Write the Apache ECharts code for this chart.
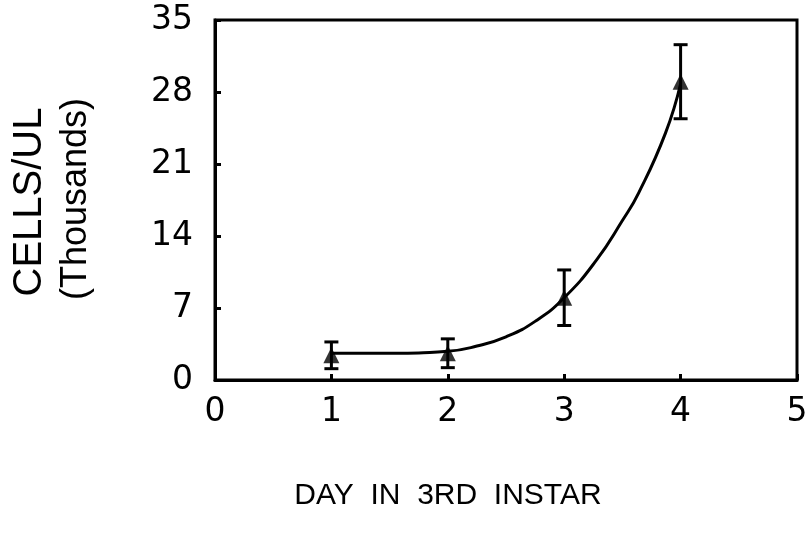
<!DOCTYPE html>
<html>
<head>
<meta charset="utf-8">
<script src="https://cdn.jsdelivr.net/npm/echarts@6/dist/echarts.min.js"></script>
<style>html,body{margin:0;padding:0;background:#fff}#c{width:811px;height:540px}</style>
</head>
<body>
<div id="c"></div>
<script>
// Measured means and error (half-width), thousands of cells/uL
var days = [1, 2, 3, 4];
var means = [2.4, 2.6, 8.0, 29.0];
var errors = [1.3, 1.4, 2.7, 3.6];
// Fitted curve
var curveX = [1.0, 1.5, 2.0, 2.25, 2.5, 2.75, 3.0, 3.28, 3.5, 3.64, 3.87, 4.0];
var curveY = [2.6, 2.6, 2.8, 3.3, 4.2, 5.7, 8.0, 11.7, 15.5, 18.2, 24.0, 28.8];
var xTicks = [0, 1, 2, 3, 4, 5];
var yTicks = [0, 7, 14, 21, 28, 35];
var yName1 = 'CELLS/UL';
var yName2 = '(Thousands)';
var xName = 'DAY  IN  3RD  INSTAR';

var FONT = 'DejaVu Sans';
var chart = echarts.init(document.getElementById('c'));
var pts = days.map(function (d, i) { return [d, means[i]]; });
var errData = days.map(function (d, i) { return [d, means[i] - errors[i], means[i] + errors[i]]; });
var curve = curveX.map(function (x, i) { return [x, curveY[i]]; });

chart.setOption({
  animation: false,
  backgroundColor: '#fff',
  grid: { left: 215, right: 14, top: 20, bottom: 160, show: true, borderColor: '#000', borderWidth: 3, backgroundColor: 'transparent' },
  xAxis: {
    type: 'value', min: xTicks[0], max: xTicks[xTicks.length - 1], interval: 1,
    axisLine: { show: true, onZero: false, lineStyle: { color: '#000', width: 3 } },
    axisTick: { show: true, inside: true, length: 6, lineStyle: { color: '#000', width: 3 } },
    splitLine: { show: false },
    axisLabel: { color: '#000', fontFamily: FONT, fontSize: 33, margin: 16 }
  },
  yAxis: {
    type: 'value', min: yTicks[0], max: yTicks[yTicks.length - 1], interval: 7,
    axisLine: { show: true, lineStyle: { color: '#000', width: 3 } },
    axisTick: { show: true, inside: true, length: 6, lineStyle: { color: '#000', width: 3 } },
    splitLine: { show: false },
    axisLabel: { color: '#000', fontFamily: FONT, fontSize: 33, margin: 22 }
  },
  graphic: [
    {
      type: 'text', x: 30, y: 202, rotation: Math.PI / 2,
      style: { text: yName1, fill: '#000', font: '40px "Liberation Sans"', textAlign: 'center', textVerticalAlign: 'middle' }
    },
    {
      type: 'text', x: 76, y: 199, rotation: Math.PI / 2,
      style: { text: yName2, fill: '#000', font: '36px "Liberation Sans"', textAlign: 'center', textVerticalAlign: 'middle' }
    },
    {
      type: 'text', x: 448, y: 496,
      style: { text: xName, fill: '#000', font: '30px "Liberation Sans"', textAlign: 'center', textVerticalAlign: 'middle' }
    }
  ],
  series: [
    {
      type: 'line', data: curve, smooth: true, showSymbol: false,
      lineStyle: { color: '#000', width: 3 }, z: 2
    },
    {
      type: 'custom', data: errData, z: 3,
      renderItem: function (params, api) {
        var x = api.value(0);
        var lo = api.coord([x, api.value(1)]);
        var hi = api.coord([x, api.value(2)]);
        var cap = 7;
        var st = { stroke: '#000', lineWidth: 3 };
        return {
          type: 'group', children: [
            { type: 'line', shape: { x1: lo[0], y1: lo[1], x2: hi[0], y2: hi[1] }, style: st },
            { type: 'line', shape: { x1: lo[0] - cap, y1: lo[1], x2: lo[0] + cap, y2: lo[1] }, style: st },
            { type: 'line', shape: { x1: hi[0] - cap, y1: hi[1], x2: hi[0] + cap, y2: hi[1] }, style: st }
          ]
        };
      }
    },
    {
      type: 'scatter', data: pts, symbol: 'triangle', symbolSize: 16, z: 4,
      itemStyle: { color: '#000' }
    }
  ]
});
</script>
</body>
</html>
